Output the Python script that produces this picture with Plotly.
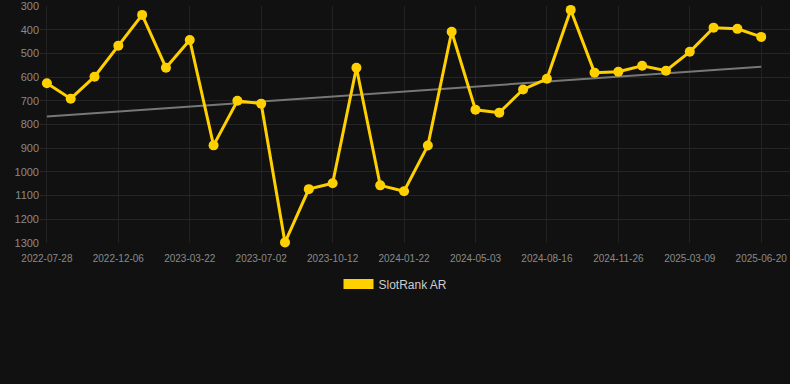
import numpy as np
import plotly.graph_objects as go

dates = [
    "2022-07-28", "2022-08-31", "2022-10-04", "2022-12-06", "2023-01-09", "2023-02-14",
    "2023-03-22", "2023-04-25", "2023-05-29", "2023-07-02", "2023-08-05", "2023-09-08",
    "2023-10-12", "2023-11-15", "2023-12-19", "2024-01-22", "2024-02-25", "2024-03-30",
    "2024-05-03", "2024-06-06", "2024-07-12", "2024-08-16", "2024-09-19", "2024-10-23",
    "2024-11-26", "2024-12-30", "2025-02-03", "2025-03-09", "2025-04-12", "2025-05-16",
    "2025-06-20",
]
ranks = [
    626, 691, 598, 467, 337, 560, 443, 888, 700, 712, 1298, 1073, 1048, 560, 1057, 1082,
    889, 408, 738, 750, 652, 607, 316, 581, 577, 552, 573, 493, 391, 396, 430,
]
tick_dates = dates[::3]
y_ticks = [300, 400, 500, 600, 700, 800, 900, 1000, 1100, 1200, 1300]

idx = np.arange(len(ranks))
slope, intercept = np.polyfit(idx, ranks, 1)
trend = slope * idx + intercept

GOLD = "#FFD000"
fig = go.Figure()
fig.add_trace(go.Scatter(
    x=dates, y=trend, mode="lines", line=dict(color="#777777", width=2),
    showlegend=False, hoverinfo="skip",
))
fig.add_trace(go.Scatter(
    x=dates, y=ranks, mode="lines+markers", line=dict(color=GOLD, width=3),
    marker=dict(color=GOLD, size=10), showlegend=False, name="SlotRank AR",
    cliponaxis=False,
))
fig.add_trace(go.Scatter(
    x=[None], y=[None], mode="lines", line=dict(color=GOLD, width=12),
    name="SlotRank AR", showlegend=True,
))

fig.update_layout(
    width=790, height=384,
    paper_bgcolor="#111111", plot_bgcolor="#111111",
    margin=dict(l=40, r=0, t=6, b=141),
    font=dict(family="Liberation Sans, Arial, sans-serif", color="#8a8a8a"),
    showlegend=True,
    legend=dict(
        orientation="h", x=0.474, xanchor="center", y=-0.112, yanchor="top",
        font=dict(size=12, color="#cccccc"), bgcolor="rgba(0,0,0,0)",
    ),
    xaxis=dict(
        type="category", categoryorder="array", categoryarray=dates,
        range=[-0.29, len(dates) + 0.21],
        tickmode="array", tickvals=tick_dates, ticktext=tick_dates,
        tickfont=dict(size=10, color="#8a8a8a"), ticklabelstandoff=8,
        showgrid=True, gridcolor="#222222", gridwidth=1,
        showline=False, zeroline=False, ticks="",
    ),
    yaxis=dict(
        range=[1300.5, 299.5], tickmode="array", tickvals=y_ticks,
        tickfont=dict(size=11, color="#8a8a8a"), ticklabeloverflow="allow",
        showgrid=True, gridcolor="#252525", gridwidth=1,
        zeroline=False, showline=False, ticks="",
    ),
)
fig.write_html("out.html")
